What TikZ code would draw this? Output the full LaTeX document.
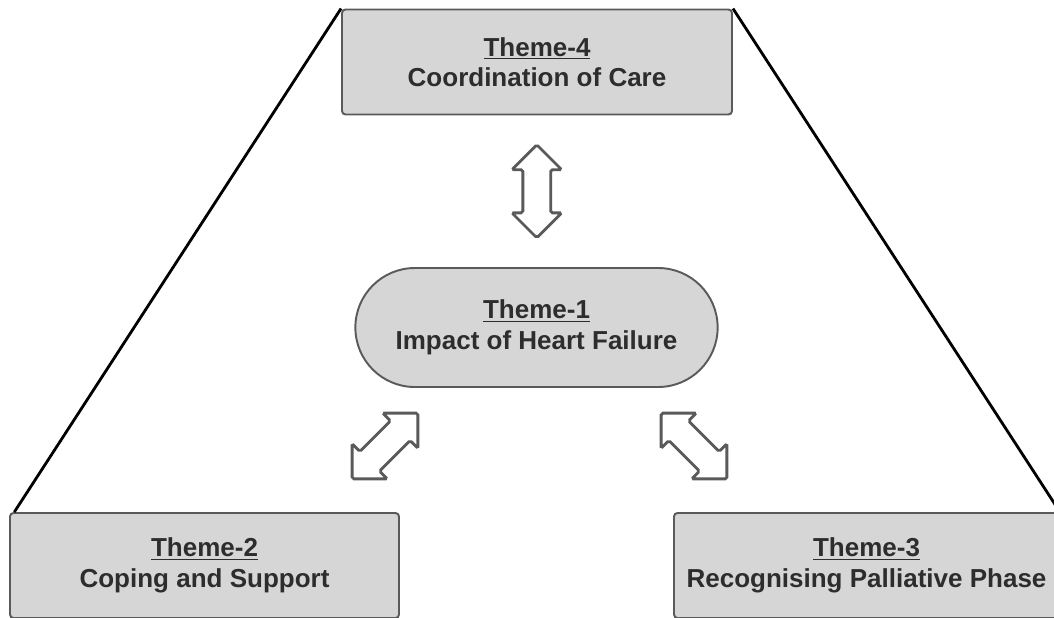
\documentclass[tikz,border=0pt]{standalone}
\usepackage{fontspec}
\setmainfont{Liberation Sans}
\usetikzlibrary{shapes.misc, shapes.arrows, positioning, calc}
\definecolor{themefill}{RGB}{214,214,214}
\definecolor{themeline}{RGB}{90,90,90}
\definecolor{themetext}{RGB}{45,45,45}

\begin{document}
\begin{tikzpicture}[
  every node/.style={font=\fontsize{14.8}{17.4}\selectfont\bfseries, text=themetext},
  theme/.style={draw=themeline, line width=1.1pt, fill=themefill, rounded corners=2pt, align=center, minimum height=2.1cm},
  link/.style={double arrow, draw=themeline, fill=white, line width=1.6pt, rounded corners=1pt,
    inner sep=0pt, inner ysep=0.25cm, minimum height=1.86cm,
    double arrow head extend=0.22cm, double arrow tip angle=90}
]
\useasboundingbox (0,0) rectangle (21.08,12.34);
\clip (0,0) rectangle (21.08,12.34);

% Themes
\node[theme, minimum width=7.8cm] (t4) at (10.74,11.1) {\underline{Theme-4}\\Coordination of Care};
\node[theme, rounded rectangle, sharp corners, minimum width=7.48cm, minimum height=2.38cm] (t1) at (10.73,5.79) {\underline{Theme-1}\\Impact of Heart Failure};
\node[theme, minimum width=7.78cm] (t2) at (4.09,1.03) {\underline{Theme-2}\\Coping and Support};
\node[theme, minimum width=7.7cm] (t3) at (17.33,1.03) {\underline{Theme-3}\\Recognising Palliative Phase};

% Outline
\draw[line width=1.6pt] (t4.north west) -- ([xshift=3pt]t2.north west);
\draw[line width=1.6pt] (t4.north east) -- (t3.north east);

% Links
\node[link, rotate=90] (a41) at ($(t4.south)!0.5!(t1.north)$) {};
\node[link, rotate=45] (a12) at (7.70,3.42) {};
\node[link, rotate=-45] (a13) at (13.88,3.42) {};
\end{tikzpicture}
\end{document}
